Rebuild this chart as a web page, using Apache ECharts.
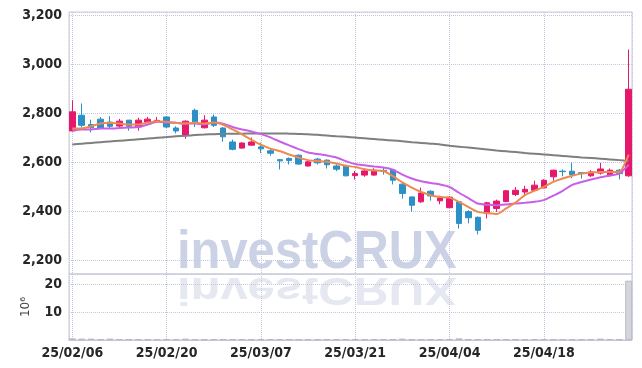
<!DOCTYPE html>
<html>
<head>
<meta charset="utf-8">
<script src="https://cdn.jsdelivr.net/npm/echarts@6/dist/echarts.min.js"></script>
<style>html,body{margin:0;padding:0;background:#fff}#c{width:642px;height:368px}</style>
</head>
<body>
<div id="c"></div>
<script>
const dates = ['2025-02-06','2025-02-07','2025-02-10','2025-02-11','2025-02-12','2025-02-13','2025-02-14','2025-02-17','2025-02-18','2025-02-19',
'2025-02-20','2025-02-21','2025-02-24','2025-02-25','2025-02-26','2025-02-27','2025-02-28','2025-03-04','2025-03-05','2025-03-06',
'2025-03-07','2025-03-10','2025-03-11','2025-03-12','2025-03-13','2025-03-14','2025-03-17','2025-03-18','2025-03-19','2025-03-20',
'2025-03-21','2025-03-24','2025-03-25','2025-03-26','2025-03-27','2025-03-28','2025-03-31','2025-04-01','2025-04-02','2025-04-03',
'2025-04-04','2025-04-07','2025-04-08','2025-04-09','2025-04-10','2025-04-11','2025-04-14','2025-04-15','2025-04-16','2025-04-17',
'2025-04-18','2025-04-21','2025-04-22','2025-04-23','2025-04-24','2025-04-25','2025-04-28','2025-04-29','2025-04-30','2025-05-02'];

const opens  = [2727,2791,2753,2775,2763,2747,2771,2743,2763,2767, 2784,2739,2710,2811,2740,2784,2739,2682,2657,2669,
                2662,2646,2610,2615,2628,2584,2612,2608,2584,2584, 2545,2547,2547,2566,2568,2510,2458,2438,2481,2442,
                2414,2438,2398,2375,2390,2411,2439,2468,2478,2485, 2495,2540,2563,2563,2557,2544,2555,2547,2567,2544];
const closes = [2805,2750,2740,2739,2746,2767,2746,2771,2775,2770, 2743,2727,2767,2764,2771,2750,2703,2652,2678,2682,
                2654,2636,2605,2606,2592,2601,2597,2589,2571,2544, 2553,2564,2567,2562,2526,2472,2424,2474,2462,2454,
                2457,2350,2373,2322,2434,2441,2483,2485,2489,2506, 2526,2567,2561,2549,2553,2560,2572,2567,2553,2897];
const lows   = [2725,2741,2721,2736,2737,2738,2728,2728,2761,2762, 2739,2717,2695,2743,2737,2743,2683,2648,2655,2668,
                2637,2626,2570,2590,2590,2582,2590,2574,2563,2542, 2529,2540,2545,2549,2509,2451,2398,2434,2443,2428,
                2412,2329,2350,2305,2370,2397,2436,2461,2467,2483, 2493,2524,2542,2534,2533,2540,2549,2540,2529,2540];
const highs  = [2852,2839,2773,2784,2787,2776,2772,2781,2784,2784, 2786,2746,2770,2818,2791,2794,2743,2692,2680,2700,
                2679,2655,2613,2619,2631,2604,2617,2611,2591,2586, 2564,2574,2575,2576,2572,2519,2460,2496,2485,2463,
                2461,2441,2404,2378,2438,2447,2486,2498,2503,2524, 2530,2569,2570,2598,2558,2567,2597,2574,2572,3059];

const ma5  = [2737,2737,2746,2757,2760,2757,2753,2753,2761,2767, 2764,2760,2757,2760,2757,2761,2752,2733,2713,2691,
              2671,2655,2645,2631,2619,2608,2604,2601,2594,2585, 2580,2571,2566,2564,2543,2517,2496,2478,2465,2458,
              2455,2438,2417,2397,2392,2388,2411,2435,2465,2483, 2499,2519,2533,2544,2553,2558,2560,2560,2560,2630];
const ma10 = [2730,2733,2733,2737,2737,2739,2741,2743,2753,2764, 2761,2760,2757,2757,2754,2761,2756,2743,2733,2725,
              2714,2701,2684,2668,2653,2639,2633,2627,2619,2604, 2592,2587,2582,2578,2569,2549,2533,2522,2515,2509,
              2499,2475,2453,2431,2426,2424,2427,2431,2434,2438, 2445,2463,2483,2507,2519,2529,2538,2545,2553,2589];
const ma60 = [2672,2675,2678,2681,2684,2687,2690,2693,2696,2699, 2702,2705,2707,2710,2712,2714,2715,2716,2716,2717,
              2717,2717,2717,2716,2715,2714,2711,2708,2705,2703, 2700,2697,2694,2691,2688,2685,2681,2678,2675,2672,
              2667,2663,2659,2655,2651,2647,2644,2641,2637,2634, 2631,2628,2625,2622,2619,2617,2614,2611,2608,2604];
const volumes = [0.6,0.5,0.5,0.3,0.5,0.3,0.3,0.3,0.3,0.3, 0.3,0.3,0.5,0.3,0.3,0.3,0.3,0.3,0.3,0.3,
                 0.3,0.3,0.3,0.3,0.3,0.3,0.3,0.3,0.3,0.3, 0.3,0.3,0.3,0.3,0.3,0.5,0.3,0.3,0.3,0.3,
                 0.3,0.6,0.3,0.3,0.3,0.3,0.3,0.3,0.3,0.3, 0.3,0.3,0.3,0.3,0.3,0.3,0.5,0.3,0.3,21.2];

const UP = '#e6186b', DOWN = '#2b90c6';
const FONT = '"Liberation Sans Narrow","DejaVu Sans Condensed",sans-serif';
const fmtDate = d => d.slice(2).replace(/-/g, '/');

const chart = echarts.init(document.getElementById('c'), null, {renderer: 'canvas'});
const dotted = {show: true, lineStyle: {type: 'dotted', color: '#c3c7dc', width: 1}};
const xBase = {type: 'value', min: -0.35, max: 59.35, axisTick: {show: false}, splitLine: dotted};
const labelStyle = {fontFamily: FONT, fontSize: 14, fontWeight: 'bold', color: '#262626'};

chart.setOption({
  animation: false,
  backgroundColor: '#fff',
  grid: [
    {left: 69, right: 10, top: 12, height: 262, show: true, borderColor: '#cdcedb', borderWidth: 1},
    {left: 69, right: 10, top: 274, height: 66, show: true, borderColor: '#c6c7d2', borderWidth: 1}
  ],
  xAxis: [
    Object.assign({}, xBase, {gridIndex: 0, axisLine: {show: false}, axisLabel: {show: false}}),
    Object.assign({}, xBase, {gridIndex: 1, axisLine: {show: true, lineStyle: {color: '#c6c7d2'}},
      axisLabel: Object.assign({showMinLabel: false, showMaxLabel: false, margin: 6,
        formatter: v => Number.isInteger(v) && dates[v] ? fmtDate(dates[v]) : ''}, labelStyle)})
  ],
  yAxis: [
    {type: 'value', gridIndex: 0, min: 2143.7, max: 3211.95, axisLine: {show: false}, axisTick: {show: false},
     splitLine: dotted,
     axisLabel: Object.assign({showMinLabel: false, showMaxLabel: false, margin: 7,
       formatter: v => Number.isInteger(v) ? v.toLocaleString('en-US') : ''}, labelStyle)},
    {type: 'value', gridIndex: 1, min: 0, max: 23.6, interval: 10, axisLine: {show: false}, axisTick: {show: false},
     splitLine: dotted,
     name: '10\u2076', nameLocation: 'middle', nameGap: 37, nameRotate: 90,
     nameTextStyle: {fontFamily: '"DejaVu Sans",sans-serif', fontSize: 12, color: '#444'},
     axisLabel: Object.assign({showMinLabel: false, showMaxLabel: false, margin: 7,
       formatter: v => Number.isInteger(v) ? String(v) : ''}, labelStyle)}
  ],
  graphic: [
    {type: 'text', z: -10, x: 177, y: 272, scaleX: 0.905,
     style: {text: 'investCRUX', x: 0, y: -19, font: 'bold 54px "Liberation Sans", Arial, sans-serif', fill: '#ccd2e6', verticalAlign: 'middle', align: 'left'}},
    {type: 'text', z: -10, x: 177, y: 275, scaleX: 0.905, scaleY: -0.73,
     style: {text: 'investCRUX', x: 0, y: -19, font: 'bold 54px "Liberation Sans", Arial, sans-serif', fill: '#e5e7f1', verticalAlign: 'middle', align: 'left'}}
  ],
  series: [
    {type: 'candlestick', xAxisIndex: 0, yAxisIndex: 0, barWidth: 6,
     encode: {x: 0, y: [1, 2, 3, 4]},
     data: dates.map((d, i) => [i, opens[i], closes[i], lows[i], highs[i]]),
     itemStyle: {color: UP, color0: DOWN, borderColor: UP, borderColor0: DOWN, borderWidth: 1}},
    {type: 'line', xAxisIndex: 0, yAxisIndex: 0, showSymbol: false, smooth: 0.2,
     data: ma60.map((v, i) => [i, v]), lineStyle: {color: '#7f7f7f', width: 2}},
    {type: 'line', xAxisIndex: 0, yAxisIndex: 0, showSymbol: false, smooth: 0.2,
     data: ma10.map((v, i) => [i, v]), lineStyle: {color: '#c85fe8', width: 2}},
    {type: 'line', xAxisIndex: 0, yAxisIndex: 0, showSymbol: false, smooth: 0.2,
     data: ma5.map((v, i) => [i, v]), lineStyle: {color: '#ee8a50', width: 2}},
    {type: 'bar', xAxisIndex: 1, yAxisIndex: 1, barWidth: 7,
     data: volumes.map((v, i) => [i, v]),
     itemStyle: {color: '#d5d5de', borderColor: '#b9b9c6', borderWidth: 1}}
  ]
});
</script>
</body>
</html>
